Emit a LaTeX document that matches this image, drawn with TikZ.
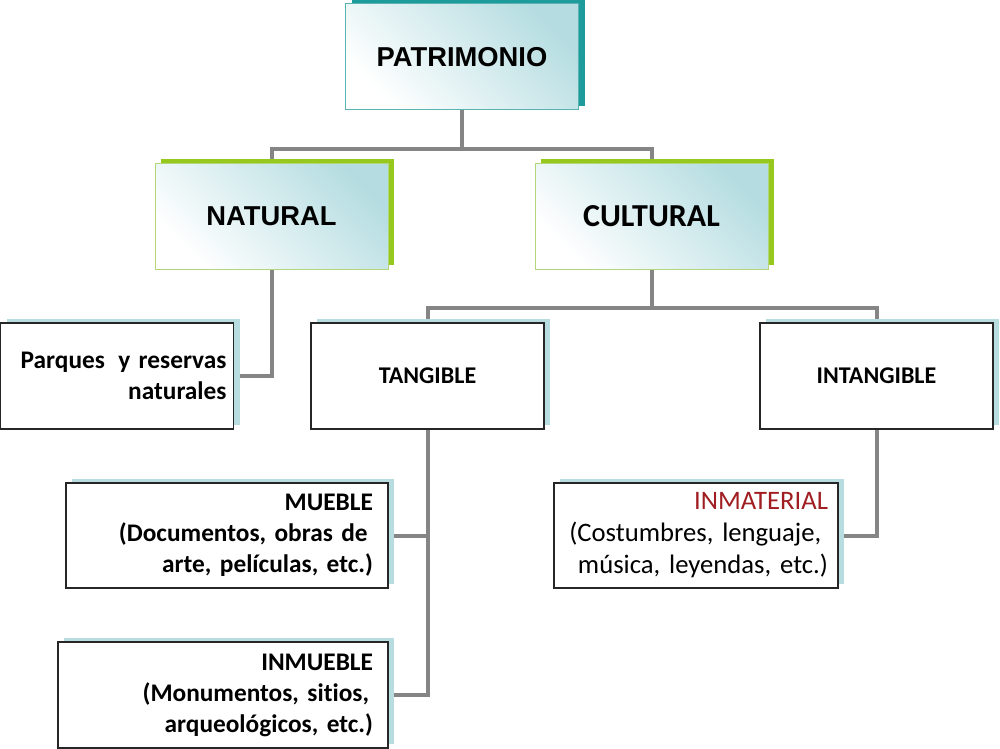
\documentclass[tikz,border=0pt]{standalone}
\usepackage{fontspec}
\setmainfont{Carlito}[Ligatures=NoCommon]
\newfontfamily\arialfont{Liberation Sans}
\usetikzlibrary{positioning,shadows,backgrounds}
\definecolor{patteal}{HTML}{1E9B9B}
\definecolor{patedge}{HTML}{5AB3B3}
\definecolor{topfill}{HTML}{B5DDE1}
\definecolor{natgreen}{HTML}{96C81E}
\definecolor{natedge}{HTML}{B3D67A}
\definecolor{lowshadow}{HTML}{B7DDE1}
\definecolor{conngray}{HTML}{858585}
\definecolor{matred}{HTML}{A01E22}

\begin{document}
\begin{tikzpicture}[x=0.75pt,y=-0.75pt,
  conn/.style={draw=conngray, line width=3pt},
  headbox/.style={shading=axis, top color=topfill, middle color=white!70!topfill, bottom color=white,
    shading angle=-45, line width=0.75pt, minimum width=174.75pt, minimum height=79.5pt},
  natbox/.style={headbox, draw=natedge, general shadow={fill=natgreen, shadow xshift=4.5pt, shadow yshift=3pt}},
  leafbox/.style={draw=black!85, fill=white, line width=1pt, minimum height=79.5pt,
    general shadow={fill=lowshadow, shadow xshift=4.5pt, shadow yshift=3pt},
    font=\bfseries\fontsize{19}{23.25}\selectfont}]
\useasboundingbox (0,0) rectangle (1000,749);
\node[headbox, draw=patedge, general shadow={fill=patteal, shadow xshift=4.5pt, shadow yshift=3pt},
  font=\arialfont\bfseries\fontsize{20.5}{25}\selectfont] (pat) at (462,57) {PATRIMONIO};
\node[natbox, font=\arialfont\bfseries\fontsize{20.5}{25}\selectfont] (nat) at (271.5,216) {NATURAL};
\node[natbox, font=\bfseries\fontsize{24}{29}\selectfont] (cul) at (651.5,216) {CULTURAL};
\node[leafbox, align=right, text width=164.25pt, inner xsep=5.25pt] (par) at (117,376)
  {Parques\hspace{10pt}y reservas\\naturales};
\node[leafbox, minimum width=174.75pt, font=\bfseries\fontsize{18}{22}\selectfont] (tan) at (427.5,376) {TANGIBLE};
\node[leafbox, minimum width=174.75pt, font=\bfseries\fontsize{18}{22}\selectfont] (int) at (876.5,376) {INTANGIBLE};
\node[leafbox, align=right, text width=219pt, inner xsep=11.25pt, minimum height=78.75pt] (mue) at (227,535.5)
  {MUEBLE\\(Documentos, obras de\kern4pt\\arte, películas, etc.)};
\node[leafbox, align=right, text width=225pt, inner xsep=11.25pt] (inm) at (223,695)
  {INMUEBLE\\(Monumentos, sitios,\kern3pt\\arqueológicos, etc.)};
\node[leafbox, align=right, text width=198pt, inner xsep=7.5pt, minimum height=78.75pt,
  font=\fontsize{20}{24}\selectfont] (mat) at (696,535.5)
  {\textcolor{matred}{INMATERIAL}\\(Costumbres, lenguaje,\kern5pt\\música, leyendas, etc.)};
\begin{scope}[on background layer]
\draw[conn] (pat.south) -- ++(0,38) coordinate (patj) -| (nat.north);
\draw[conn] (patj) -| (cul.north);
\draw[conn] (nat.south) |- (par.east);
\draw[conn] (cul.south) -- ++(0,38) coordinate (culj) -| (tan.north);
\draw[conn] (culj) -| (int.north);
\draw[conn] (tan.south) |- (mue.east);
\draw[conn] (tan.south) |- (inm.east);
\draw[conn] (int.south) |- (mat.east);
\end{scope}
\end{tikzpicture}
\end{document}
